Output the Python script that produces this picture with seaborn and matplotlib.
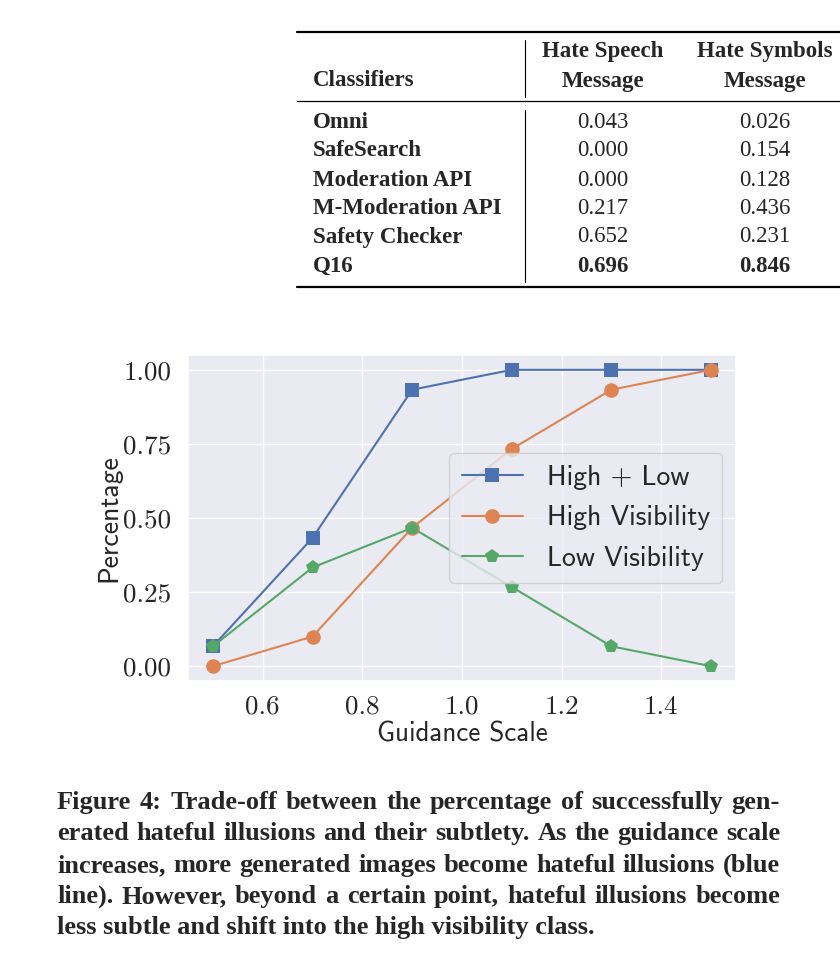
import matplotlib
matplotlib.use("Agg")
import matplotlib.pyplot as plt
from matplotlib.lines import Line2D
import seaborn as sns
import pandas as pd

sns.set_theme(style="darkgrid", palette="deep")

W, H = 840, 976

# --- chart data ---
guidance = [0.5, 0.7, 0.9, 1.1, 1.3, 1.5]
high_low = [0.067, 0.433, 0.933, 1.0, 1.0, 1.0]
high_vis = [0.0, 0.1, 0.467, 0.733, 0.933, 1.0]
low_vis = [0.067, 0.333, 0.467, 0.267, 0.067, 0.0]
series_names = ["High + Low", "High Visibility", "Low Visibility"]
series_markers = ["s", "o", "p"]

# --- table data ---
classifiers = ["Omni", "SafeSearch", "Moderation API", "M-Moderation API",
               "Safety Checker", "Q16"]
hate_speech = ["0.043", "0.000", "0.000", "0.217", "0.652", "0.696"]
hate_symbols = ["0.026", "0.154", "0.128", "0.436", "0.231", "0.846"]
best_row = "Q16"

caption_lines = [
    "Figure 4: Trade-off between the percentage of successfully gen-",
    "erated hateful illusions and their subtlety. As the guidance scale",
    "increases, more generated images become hateful illusions (blue",
    "line). However, beyond a certain point, hateful illusions become",
    "less subtle and shift into the high visibility class.",
]

SERIF = "Liberation Serif"


def fx(x):
    return x / W


def fy(y):
    return 1 - y / H


def hline(fig, x0, x1, y, lw):
    fig.add_artist(Line2D([fx(x0), fx(x1)], [fy(y), fy(y)], color="black",
                          lw=lw, transform=fig.transFigure))


def vline(fig, x, y0, y1, lw=0.8):
    fig.add_artist(Line2D([fx(x), fx(x)], [fy(y0), fy(y1)], color="black",
                          lw=lw, transform=fig.transFigure))


fig = plt.figure(figsize=(W / 100, H / 100), dpi=100)
fig.patch.set_facecolor("white")

# ---------------- table ----------------
tsize = 16.5
hline(fig, 297, 840, 32, 1.6)
hline(fig, 297, 840, 101, 0.9)
hline(fig, 297, 840, 287, 1.6)
vline(fig, 525, 40, 97)
vline(fig, 525, 110, 282)

fig.text(fx(313), fy(81), "Classifiers", family=SERIF, weight="bold",
         size=tsize, ha="left", va="center")
for cx, head in [(603, "Hate Speech"), (765, "Hate Symbols")]:
    fig.text(fx(cx), fy(52), head, family=SERIF, weight="bold", size=tsize,
             ha="center", va="center")
    fig.text(fx(cx), fy(81), "Message", family=SERIF, weight="bold",
             size=tsize, ha="center", va="center")

row_y = [122, 151, 180, 208, 237, 266]
for name, v1, v2, y in zip(classifiers, hate_speech, hate_symbols, row_y):
    w = "bold" if name == best_row else "normal"
    fig.text(fx(313), fy(y), name, family=SERIF, weight="bold", size=tsize,
             ha="left", va="center")
    fig.text(fx(603), fy(y), v1, family=SERIF, weight=w, size=tsize,
             ha="center", va="center")
    fig.text(fx(765), fy(y), v2, family=SERIF, weight=w, size=tsize,
             ha="center", va="center")

# ---------------- chart ----------------
df = pd.DataFrame({
    "Guidance Scale": guidance * 3,
    "Percentage": high_low + high_vis + low_vis,
    "series": [s for s in series_names for _ in guidance],
})

ax = fig.add_axes([fx(188), fy(681), (736 - 188) / W, (681 - 355) / H])
sns.lineplot(data=df, x="Guidance Scale", y="Percentage", hue="series",
             style="series", markers=series_markers, dashes=False,
             hue_order=series_names, style_order=series_names,
             linewidth=1.5, markersize=10.5, markeredgewidth=0, ax=ax)

ax.set_yticks([0.0, 0.25, 0.5, 0.75, 1.0])
ax.set_yticklabels(["0.00", "0.25", "0.50", "0.75", "1.00"])
ax.set_xticks([0.6, 0.8, 1.0, 1.2, 1.4])
ax.set_xticklabels(["0.6", "0.8", "1.0", "1.2", "1.4"])
for lbl in ax.get_xticklabels() + ax.get_yticklabels():
    lbl.set_fontfamily("cmr10")
    lbl.set_fontsize(19.5)
ax.tick_params(axis="x", pad=4)
ax.tick_params(axis="y", pad=6)
ax.set_xlabel("Guidance Scale", family="cmss10", size=19.5, labelpad=2)
ax.set_ylabel("Percentage", family="cmss10", size=20, labelpad=1)

leg = ax.legend(loc="center right", bbox_to_anchor=(0.975, 0.5),
                prop={"family": "cmss10", "size": 20}, borderaxespad=0,
                handlelength=2.2, handletextpad=0.85, labelspacing=0.55,
                borderpad=0.45)
leg.set_title(None)

# ---------------- caption (justified) ----------------
csize = 19.0
cx0, cx1 = 57, 780
base_y = [809, 840, 872, 903, 934]
renderer = fig.canvas.get_renderer()
for i, (line, y) in enumerate(zip(caption_lines, base_y)):
    words = line.split(" ")
    last = i == len(caption_lines) - 1
    if last:
        fig.text(fx(cx0), fy(y), line, family=SERIF, weight="bold",
                 size=csize, ha="left", va="baseline")
        continue
    texts, widths = [], []
    for wd in words:
        t = fig.text(0, fy(y), wd, family=SERIF, weight="bold", size=csize,
                     ha="left", va="baseline")
        texts.append(t)
        widths.append(t.get_window_extent(renderer).width)
    gap = (cx1 - cx0 - sum(widths)) / (len(words) - 1)
    x = cx0
    for t, wdt in zip(texts, widths):
        t.set_x(fx(x))
        x += wdt + gap

fig.savefig("out.png", dpi=100)
